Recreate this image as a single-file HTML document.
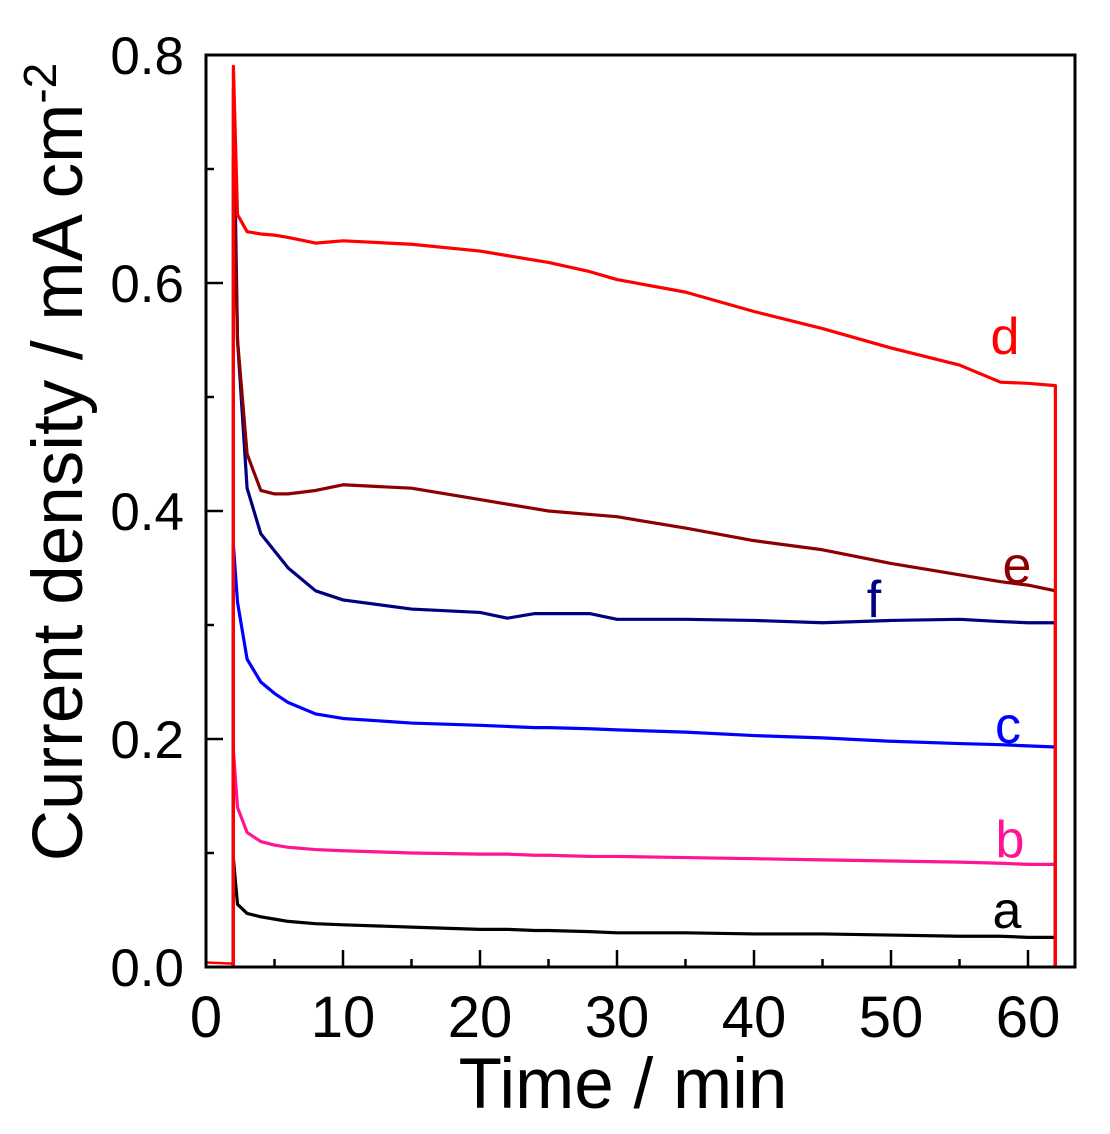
<!DOCTYPE html>
<html><head><meta charset="utf-8"><style>
body{margin:0;background:#fff}
svg{display:block;font-family:"Liberation Sans",sans-serif}
</style></head><body>
<svg id="chart" width="1110" height="1134" xmlns="http://www.w3.org/2000/svg"></svg>
<script>
const times=[2,2.3,3,4,5,6,8,10,15,20,22,24,25,28,30,35,40,45,50,55,58,60,62];
const seriesNames=['a','b','c','f','e','d'];
const seriesColors=['#000000','#ff1493','#0000ff','#000080','#8b0000','#ff0000'];
const spikes=[0.095,0.19,0.37,0.77,0.71,0.79];
const valsA=[0.095,0.055,0.047,0.044,0.042,0.04,0.038,0.037,0.035,0.033,0.033,0.032,0.032,0.031,0.030,0.030,0.029,0.029,0.028,0.027,0.027,0.026,0.026];
const valsB=[0.19,0.14,0.118,0.11,0.107,0.105,0.103,0.102,0.100,0.099,0.099,0.098,0.098,0.097,0.097,0.096,0.095,0.094,0.093,0.092,0.091,0.090,0.090];
const valsC=[0.37,0.32,0.27,0.25,0.24,0.232,0.222,0.218,0.214,0.212,0.211,0.210,0.210,0.209,0.208,0.206,0.203,0.201,0.198,0.196,0.195,0.194,0.193];
const valsF=[0.77,0.55,0.42,0.38,0.365,0.35,0.33,0.322,0.314,0.311,0.306,0.310,0.310,0.310,0.305,0.305,0.304,0.302,0.304,0.305,0.303,0.302,0.302];
const valsE=[0.71,0.55,0.45,0.418,0.415,0.415,0.418,0.423,0.420,0.410,0.406,0.402,0.400,0.397,0.395,0.385,0.374,0.366,0.354,0.344,0.338,0.335,0.330];
const valsD=[0.79,0.66,0.645,0.643,0.642,0.640,0.635,0.637,0.634,0.628,0.624,0.620,0.618,0.610,0.603,0.592,0.575,0.560,0.543,0.528,0.513,0.512,0.510];
const allVals=[valsA,valsB,valsC,valsF,valsE,valsD];
const xTicks=[0,10,20,30,40,50,60];
const yTicks=[0,0.2,0.4,0.6,0.8];
const yTickLabels=['0.0','0.2','0.4','0.6','0.8'];
const labelPos=[[0.026,1007,928],[0.09,1010,857],[0.193,1008,743],[0.302,874,617],[0.33,1017,583],[0.51,1005,354]];

const L=206,R=1075,T=55,B=967;
const X=t=>L+t*13.7;
const Y=v=>B-v*1140;
const svg=document.getElementById('chart');
const NS='http://www.w3.org/2000/svg';
function mk(tag,attrs){const e=document.createElementNS(NS,tag);for(const k in attrs)e.setAttribute(k,attrs[k]);svg.appendChild(e);return e;}

let pre=mk('polyline',{points:`${X(0)},${Y(0.004)} ${X(2)},${Y(0.003)}`,fill:'none',stroke:'#ff0000','stroke-width':2.5});



allVals.forEach((vals,i)=>{
  let pts=[[X(2),Y(0)]];
  vals.forEach((v,j)=>pts.push([X(times[j]),Y(j===0?spikes[i]:v)]));
  pts.push([X(62),Y(0)]);
  const p=mk('polyline',{points:pts.map(p=>p.join(',')).join(' '),fill:'none',stroke:seriesColors[i],'stroke-width':3.2,'stroke-linejoin':'round'});
  
  
  const t=mk('text',{x:labelPos[i][1],y:labelPos[i][2],fill:seriesColors[i],'font-size':52,'text-anchor':'middle'});
  t.textContent=seriesNames[i];
  
  
});

const fr=mk('rect',{x:L,y:T,width:R-L,height:B-T,fill:'none',stroke:'#000','stroke-width':3});



for(let t=0;t<=63;t+=5){
  const major=t%10===0;
  const l=mk('line',{x1:X(t),x2:X(t),y1:B,y2:B-(major?17:8),stroke:'#000','stroke-width':2.5});
  
  
}
xTicks.forEach(t=>{
  const e=mk('text',{x:X(t),y:1037,'font-size':58,'text-anchor':'middle'});
  e.textContent=t;
  
  
});
for(let k=0;k<=8;k++){
  const v=k/10,major=k%2===0;
  const l=mk('line',{x1:L,x2:L+(major?17:8),y1:Y(v),y2:Y(v),stroke:'#000','stroke-width':2.5});
  
  
}
yTicks.forEach((v,i)=>{
  const e=mk('text',{x:184,y:Y(v)+19,'font-size':53,'text-anchor':'end'});
  e.textContent=yTickLabels[i];
  
  
});
const xt=mk('text',{x:623,y:1108,'font-size':71,'text-anchor':'middle'});
xt.textContent='Time / min';


const yt=mk('text',{x:0,y:0,'font-size':71,'text-anchor':'middle',transform:'translate(82,462) rotate(-90)'});
yt.innerHTML='Current density / mA cm<tspan dy="-26" font-size="46">-2</tspan>';


</script>
</body></html>
